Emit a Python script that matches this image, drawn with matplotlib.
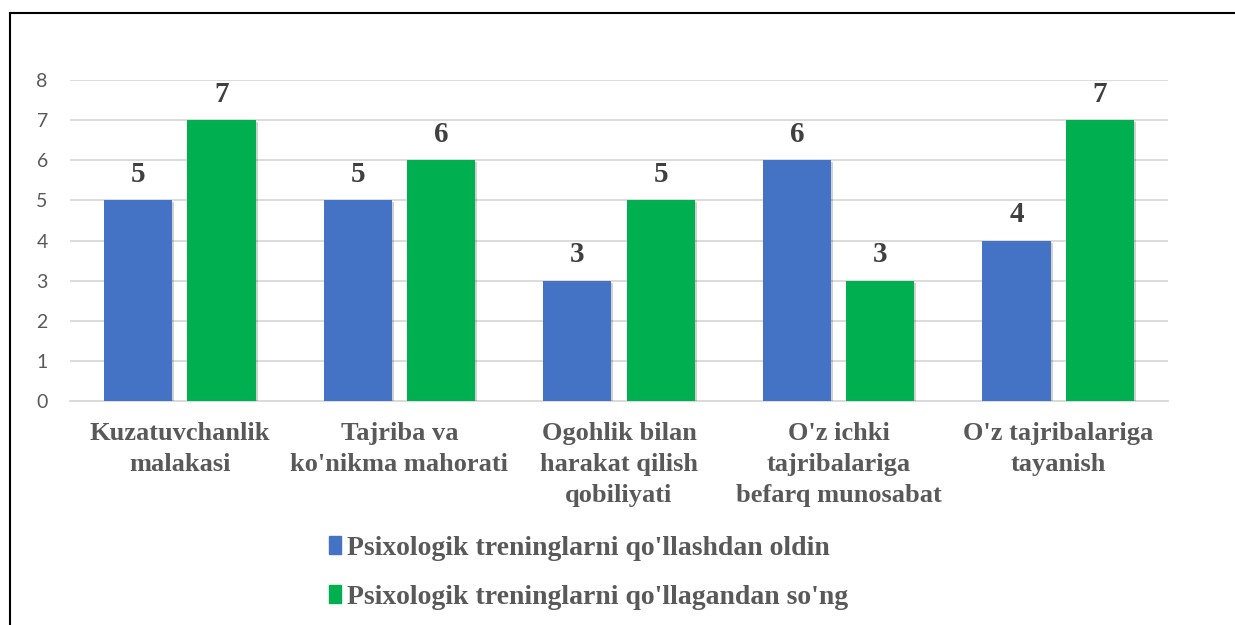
import matplotlib.pyplot as plt
import matplotlib.patheffects as pe
from matplotlib.lines import Line2D
from matplotlib.patches import Rectangle
import numpy as np

categories = ["Kuzatuvchanlik\nmalakasi", "Tajriba va\nko'nikma mahorati",
              "Ogohlik bilan\nharakat qilish\nqobiliyati",
              "O'z ichki\ntajribalariga\nbefarq munosabat",
              "O'z tajribalariga\ntayanish"]
before = [5, 5, 3, 6, 4]
after = [7, 6, 5, 3, 7]
series_names = ["Psixologik treninglarni qo'llashdan oldin",
                "Psixologik treninglarni qo'llagandan so'ng"]
yticks = [0, 1, 2, 3, 4, 5, 6, 7, 8]

blue = "#4472C4"
green = "#00B050"
gray = "#595959"
serif = ["Liberation Serif", "DejaVu Serif"]

fig = plt.figure(figsize=(12.35, 6.25), dpi=100)
ax = fig.add_axes([70 / 1235, 1 - 401 / 625, 1098 / 1235, 321 / 625])

x = np.arange(len(categories))
w = 0.31
off = 0.19
shadow = [pe.SimplePatchShadow(offset=(1.5, -1.5), shadow_rgbFace="#000000", alpha=0.18), pe.Normal()]
b1 = ax.bar(x - off, before, w, color=blue, zorder=3, path_effects=shadow)
b2 = ax.bar(x + off, after, w, color=green, zorder=3, path_effects=shadow)

for bars, vals in ((b1, before), (b2, after)):
    for r, v in zip(bars, vals):
        ax.annotate(str(v), (r.get_x() + r.get_width() / 2, v), xytext=(0, 9),
                    textcoords="offset points", ha="center", va="bottom",
                    fontsize=21, fontweight="bold", color="#404040", family=serif)

ax.set_xlim(-0.5, len(categories) - 0.5)
ax.set_ylim(0, 8)
ax.set_yticks(yticks)
ax.yaxis.grid(True, color="#D9D9D9", linewidth=1.3, zorder=0)
ax.set_axisbelow(True)
for s in ["top", "right", "left"]:
    ax.spines[s].set_visible(False)
ax.spines["bottom"].set_color("#D9D9D9")
ax.spines["bottom"].set_linewidth(1.3)
ax.tick_params(axis="y", length=0, pad=16, labelsize=14, labelcolor=gray)
for t in ax.get_yticklabels():
    t.set_family(["Lato", "DejaVu Sans"])
ax.set_xticks(x)
ax.set_xticklabels(categories, fontsize=19, fontweight="bold", color=gray,
                   family=serif, linespacing=1.45)
ax.tick_params(axis="x", length=0, pad=15)

handles = [Rectangle((0, 0), 1, 1, color=blue), Rectangle((0, 0), 1, 1, color=green)]
leg = fig.legend(handles, series_names, loc="center", bbox_to_anchor=(0.4765, 0.0835),
                 frameon=False, handlelength=0.45, handleheight=0.6, handletextpad=0.2,
                 labelspacing=0.85, prop={"family": serif, "weight": "bold", "size": 20})
for t in leg.get_texts():
    t.set_color(gray)

# border lines (top and left)
fig.add_artist(Line2D([10 / 1235, 10 / 1235], [0, 1 - 13 / 625], color="black", linewidth=1.5))
fig.add_artist(Line2D([10 / 1235, 1], [1 - 13 / 625, 1 - 13 / 625], color="black", linewidth=1.5))

fig.savefig("out.png", dpi=100)
